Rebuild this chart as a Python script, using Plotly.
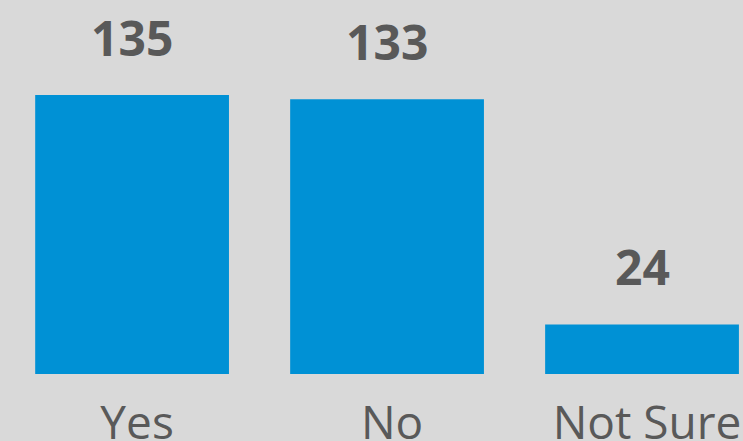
import plotly.graph_objects as go

categories = ["Yes", "No", "Not Sure"]
counts = [135, 133, 24]

bg = "#d9d9d9"
bar_color = "#0091d5"
text_color = "#595959"

fig = go.Figure()
fig.add_trace(
    go.Bar(
        x=categories,
        y=counts,
        width=0.76,
        marker_color=bar_color,
        marker_line_width=0,
        hoverinfo="skip",
    )
)

# value labels above the bars
for cat, val in zip(categories, counts):
    fig.add_annotation(
        x=cat, y=val,
        text=f"<b>{val}</b>",
        showarrow=False,
        yanchor="bottom",
        yshift=23,
        font=dict(family="Open Sans", size=48, color=text_color),
    )

fig.update_layout(
    width=743,
    height=441,
    margin=dict(l=0, r=0, t=0, b=67),
    paper_bgcolor=bg,
    plot_bgcolor=bg,
    showlegend=False,
    xaxis=dict(
        range=[-0.518, 2.396],
        automargin=False,
        showgrid=False,
        zeroline=False,
        showline=False,
        ticks="",
        tickfont=dict(family="Open Sans", size=46, color=text_color),
        ticklabelstandoff=18,
        ticklabelshift=5,
    ),
    yaxis=dict(
        range=[0, 181],
        visible=False,
    ),
)

# drop the default page margin so the chart fills the window
fig.write_html(
    "out.html",
    config={"displayModeBar": False},
    post_script="document.body.style.margin='0';document.body.style.background='%s';" % bg,
)
